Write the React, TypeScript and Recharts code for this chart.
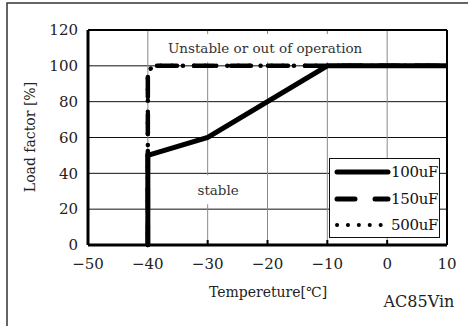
import React from 'react';
import {
  LineChart,
  Line,
  XAxis,
  YAxis,
  CartesianGrid,
  ReferenceArea,
  ReferenceLine,
} from 'recharts';

// Temperature derating curves (load factor vs ambient temperature)
const temp100 = [-40, -40, -30, -10, 10];
const load100 = [0, 50, 60, 100, 100];
const temp150 = [-40, -40, -39, 10];
const load150 = [0, 97, 100, 100];
const temp500 = [-40, -40, -39, 10];
const load500 = [0, 97, 100, 100];

const xTicks = [-50, -40, -30, -20, -10, 0, 10];
const yTicks = [0, 20, 40, 60, 80, 100, 120];

const seriesNames = ['100uF', '150uF', '500uF'];

const toPoints = (xs: number[], ys: number[]) => xs.map((t, i) => ({ t, v: ys[i] }));

const data100 = toPoints(temp100, load100);
const data150 = toPoints(temp150, load150);
const data500 = toPoints(temp500, load500);

const FONT = '"DejaVu Serif", serif';

const fmt = (n: number) => (n < 0 ? '\u2212' + Math.abs(n) : String(n));

const LegendBox = () => (
  <div
    style={{
      position: 'absolute',
      left: 329,
      top: 158,
      width: 111,
      height: 80,
      border: '1.5px solid #111',
      background: '#fff',
      boxSizing: 'border-box',
      fontFamily: FONT,
      fontSize: 15,
      color: '#111',
      paddingTop: 0,
    }}
  >
    {seriesNames.map((name, i) => (
      <div key={name} style={{ display: 'flex', alignItems: 'center', height: 26.5 }}>
        <svg width={58} height={10} style={{ marginLeft: 4 }}>
          {i === 0 && <line x1={3} y1={5} x2={54} y2={5} stroke="#000" strokeWidth={5} strokeLinecap="round" />}
          {i === 1 && (
            <line x1={3} y1={5} x2={54} y2={5} stroke="#000" strokeWidth={5} strokeLinecap="round" strokeDasharray="18 20" />
          )}
          {i === 2 && (
            <line x1={3} y1={5} x2={54} y2={5} stroke="#000" strokeWidth={4} strokeLinecap="round" strokeDasharray="0.1 10.8" />
          )}
        </svg>
        <span style={{ marginLeft: -1, letterSpacing: -0.3 }}>{name}</span>
      </div>
    ))}
  </div>
);

export default function App() {
  return (
    <div style={{ position: 'absolute', left: 0, top: 0, width: 468, height: 326, background: '#fff' }}>
      <svg width={468} height={326} style={{ position: 'absolute', left: 0, top: 0 }}>
        <rect x={7} y={3} width={470} height={330} fill="#fff" stroke="#333" strokeWidth={1.5} />
        <text x={30} y={137} transform="rotate(-90 30 137)" textAnchor="middle" dominantBaseline="central"
          fontFamily={FONT} fontSize={14} fill="#222">Load factor [%]</text>
        <text x={268} y={292} textAnchor="middle" dominantBaseline="central"
          fontFamily={FONT} fontSize={14} fill="#222">Tempereture[℃]</text>
        <text x={419} y={301} textAnchor="middle" dominantBaseline="central"
          fontFamily={FONT} fontSize={16} fill="#222">AC85Vin</text>
      </svg>
      <LineChart
        width={468}
        height={326}
        margin={{ top: 30, right: 21, bottom: 51, left: 28 }}
        style={{ position: 'absolute', left: 0, top: 0 }}
      >
        <CartesianGrid vertical={false} stroke="#111" strokeWidth={1} />
        <CartesianGrid horizontal={false} stroke="#8a8a8a" strokeWidth={1} />
        <XAxis
          dataKey="t"
          type="number"
          domain={[-50, 10]}
          ticks={xTicks}
          tickFormatter={fmt}
          allowDuplicatedCategory={false}
          axisLine={{ stroke: '#000', strokeWidth: 3 }}
          tickLine={{ stroke: '#000', strokeWidth: 2 }}
          tickSize={-5}
          tickMargin={18}
          height={30}
          tick={{ fontFamily: FONT, fontSize: 15, fill: '#222' }}
        />
        <YAxis
          dataKey="v"
          type="number"
          domain={[0, 120]}
          ticks={yTicks}
          axisLine={{ stroke: '#000', strokeWidth: 3 }}
          tickLine={false}
          tickSize={0}
          tickMargin={10}
          width={60}
          tick={{ fontFamily: FONT, fontSize: 15, fill: '#222' }}
        />
        <ReferenceLine y={120} stroke="#000" strokeWidth={2} />
        <ReferenceLine x={10} stroke="#000" strokeWidth={2} />
        <ReferenceArea
          x1={-38}
          x2={-2.8}
          y1={102}
          y2={117.8}
          fill="#fff"
          fillOpacity={1}
          stroke="none"
          label={{ value: 'Unstable or out of operation', position: 'center', fontFamily: FONT, fontSize: 13.5, fill: '#333' }}
        />
        <ReferenceArea
          x1={-32.5}
          x2={-24}
          y1={22.7}
          y2={39}
          fill="#fff"
          fillOpacity={1}
          stroke="none"
          label={{ value: 'stable', position: 'center', fontFamily: FONT, fontSize: 13.5, fill: '#333' }}
        />
        <Line
          data={data500}
          dataKey="v"
          name={seriesNames[2]}
          type="linear"
          stroke="#000"
          strokeWidth={4.5}
          strokeLinecap="round"
          strokeDasharray="0.1 11"
          dot={false}
          isAnimationActive={false}
        />
        <Line
          data={data150}
          dataKey="v"
          name={seriesNames[1]}
          type="linear"
          stroke="#000"
          strokeWidth={4.5}
          strokeLinecap="round"
          strokeDasharray="20 17"
          dot={false}
          isAnimationActive={false}
        />
        <Line
          data={data100}
          dataKey="v"
          name={seriesNames[0]}
          type="linear"
          stroke="#000"
          strokeWidth={5}
          dot={false}
          isAnimationActive={false}
        />
      </LineChart>
      <LegendBox />
    </div>
  );
}
